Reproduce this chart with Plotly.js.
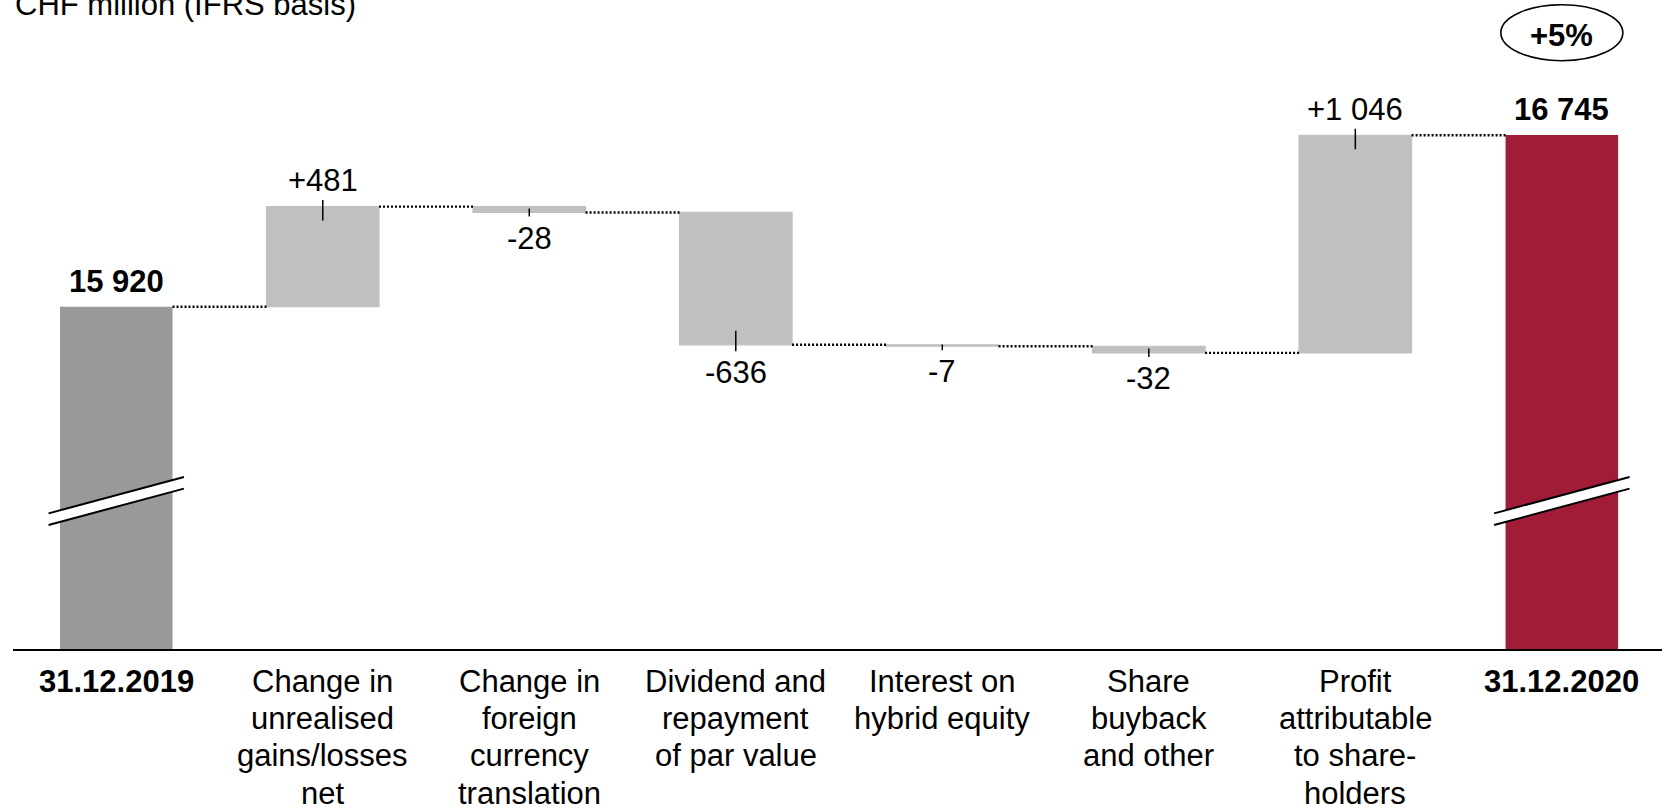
<!DOCTYPE html>
<html>
<head>
<meta charset="utf-8">
<script src="https://cdn.plot.ly/plotly-3.0.1.min.js"></script>
<style>
  html, body { margin: 0; padding: 0; background: #ffffff; }
  #chart { width: 1662px; height: 810px; }
</style>
</head>
<body>
<div id="chart"></div>
<script>
// Shareholders' equity bridge 2019 -> 2020, CHF million (IFRS basis)
const categories = [
  ['31.12.2019'],
  ['Change in', 'unrealised', 'gains/losses', 'net'],
  ['Change in', 'foreign', 'currency', 'translation'],
  ['Dividend and', 'repayment', 'of par value'],
  ['Interest on', 'hybrid equity'],
  ['Share', 'buyback', 'and other'],
  ['Profit', 'attributable', 'to share-', 'holders'],
  ['31.12.2020']
];
const openingEquity = 15920;
const movements = [481, -28, -636, -7, -32, 1046];
const closingEquity = 16745;
const unitTitle = 'CHF million (IFRS basis)';

// ---- styling / geometry ----
const FONT = 'Liberation Sans, Arial, Helvetica, sans-serif';
const FS = 31;
const W = 1662, H = 810;
const M = { l: 13, r: 0, t: 0, b: 161 };
const plotH = H - M.t - M.b;
const plotW = W - M.l - M.r;
const yMin = 14275, yMax = 17394;     // broken value axis
const xRange = [-0.5, 7.485];
const k = plotH / (yMax - yMin);      // px per CHF million
const pxX = plotW / (xRange[1] - xRange[0]);
const barW = 0.545;

const COL_OPEN = '#999999';
const COL_MOVE = '#c0c0c0';
const COL_CLOSE = '#a11c37';

function fmt(n) {
  return Math.abs(n).toString().replace(/\B(?=(\d{3})+(?!\d))/g, ' ');
}
function signed(n) { return (n >= 0 ? '+' : '-') + fmt(n); }

// bar geometry from the data
const n = categories.length;
const xs = categories.map((_, i) => i);
const bases = [], heights = [], colors = [], levels = [];
bases.push(0); heights.push(openingEquity); colors.push(COL_OPEN);
let level = openingEquity;
levels.push(level);
movements.forEach(d => {
  bases.push(level); heights.push(d); colors.push(COL_MOVE);
  level += d;
  levels.push(level);
});
bases.push(0); heights.push(closingEquity); colors.push(COL_CLOSE);
levels.push(closingEquity);

const bars = {
  type: 'bar', x: xs, y: heights, base: bases, width: barW,
  marker: {
    color: colors,
    // thin outline in the fill colour keeps the very small movements visible
    line: { color: colors, width: colors.map(c => c === COL_MOVE ? 1.2 : 0) }
  },
  hoverinfo: 'skip', cliponaxis: true
};

// dotted connectors between neighbouring bars
const cx = [], cy = [];
for (let i = 0; i < n - 1; i++) {
  cx.push(i + barW / 2, i + 1 - barW / 2, null);
  cy.push(levels[i], levels[i], null);
}
const connectors = {
  type: 'scatter', mode: 'lines', x: cx, y: cy,
  line: { color: '#000000', width: 2.4, dash: '2px,2px' },
  hoverinfo: 'skip', connectgaps: false
};

const shapes = [];
const annotations = [];

// value labels and leader ticks
for (let i = 0; i < n; i++) {
  const isTotal = (i === 0 || i === n - 1);
  if (isTotal) {
    annotations.push({
      xref: 'x', yref: 'y', x: i, y: heights[i], yanchor: 'bottom', xanchor: 'center',
      yshift: 5.9, showarrow: false, text: '<b>' + fmt(heights[i]) + '</b>',
      font: { family: FONT, size: FS, color: '#000' }
    });
  } else {
    const d = heights[i];
    const end = bases[i] + d;
    const barPx = Math.abs(d) * k;
    const inner = barPx > 20 ? 14 : barPx * 0.5 + 1;
    const outer = barPx > 20 ? 6.5 : 4;
    const dir = d >= 0 ? 1 : -1;
    shapes.push({
      type: 'line', xref: 'x', yref: 'y', x0: i, x1: i,
      y0: end + dir * outer / k, y1: end - dir * inner / k,
      line: { color: '#000', width: 1.5 }
    });
    annotations.push({
      xref: 'x', yref: 'y', x: i, y: end, xanchor: 'center',
      yanchor: d >= 0 ? 'bottom' : 'top',
      yshift: d >= 0 ? 6.4 : -(outer + 2.1),
      showarrow: false, text: signed(d),
      font: { family: FONT, size: FS, color: '#000' }
    });
  }
}

// axis break marks on the two total bars
function breakMark(i) {
  const yc = yMin + 148 / k;
  const hl = 67.7 / pxX;       // half length
  const ht = 5.8 / k;          // half gap
  const hr = 18.2 / k;         // half rise
  const xl = i - hl, xr = i + hl;
  const path = 'M' + xl + ',' + (yc + ht - hr) + ' L' + xr + ',' + (yc + ht + hr) +
               ' L' + xr + ',' + (yc - ht + hr) + ' L' + xl + ',' + (yc - ht - hr) + ' Z';
  shapes.push({ type: 'path', xref: 'x', yref: 'y', path: path,
                fillcolor: '#ffffff', line: { width: 0 } });
  [ht, -ht].forEach(o => shapes.push({
    type: 'line', xref: 'x', yref: 'y',
    x0: xl, y0: yc + o - hr, x1: xr, y1: yc + o + hr,
    line: { color: '#000', width: 2 }
  }));
}
breakMark(0);
breakMark(n - 1);

// growth bubble above the closing bar
const growth = Math.round((closingEquity / openingEquity - 1) * 100);
const ex = 61 / pxX;
shapes.push({
  type: 'circle', xref: 'x', yref: 'paper',
  x0: (n - 1) - ex, x1: (n - 1) + ex,
  y0: 1 - 60.7 / plotH, y1: 1 - 4.7 / plotH,
  line: { color: '#000', width: 1.6 }, fillcolor: 'rgba(0,0,0,0)'
});
annotations.push({
  xref: 'x', yref: 'paper', x: n - 1, y: 1 - 36 / plotH, yanchor: 'middle', xanchor: 'center',
  showarrow: false, text: '<b>' + (growth >= 0 ? '+' : '') + growth + '%</b>',
  font: { family: FONT, size: FS, color: '#000' }
});

// category labels, one annotation per line for tight line spacing
categories.forEach((lines, i) => {
  const isTotal = (i === 0 || i === n - 1);
  lines.forEach((ln, j) => {
    annotations.push({
      xref: 'x', yref: 'paper', x: i, y: 0, xanchor: 'center', yanchor: 'bottom',
      yshift: -(51.6 + 37.3 * j), showarrow: false,
      text: isTotal ? '<b>' + ln + '</b>' : ln,
      font: { family: FONT, size: FS, color: '#000' }
    });
  });
});

// unit title in the top-left corner
annotations.push({
  xref: 'paper', yref: 'paper', x: 0, y: 1, xanchor: 'left', yanchor: 'bottom',
  yshift: -23.6, showarrow: false, text: unitTitle,
  font: { family: FONT, size: FS, color: '#000' }
});

const layout = {
  width: W, height: H,
  margin: { l: M.l, r: M.r, t: M.t, b: M.b, pad: 0 },
  paper_bgcolor: '#ffffff', plot_bgcolor: '#ffffff',
  showlegend: false,
  xaxis: {
    range: xRange, showline: true, linecolor: '#000', linewidth: 2,
    showgrid: false, zeroline: false, showticklabels: false, ticks: '', fixedrange: true
  },
  yaxis: { range: [yMin, yMax], visible: false, fixedrange: true },
  shapes: shapes,
  annotations: annotations,
  hovermode: false
};

Plotly.newPlot('chart', [bars, connectors], layout, { displayModeBar: false, staticPlot: true });
</script>
</body>
</html>
